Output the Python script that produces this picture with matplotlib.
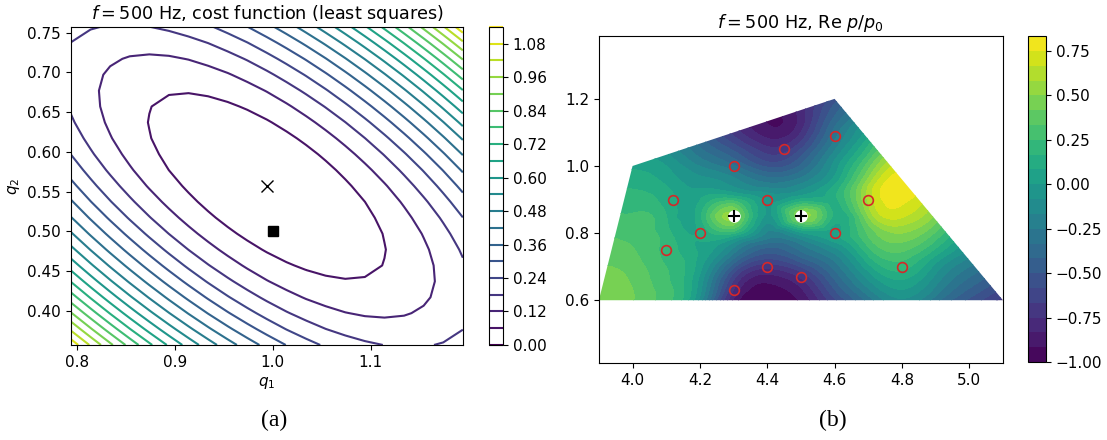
import numpy as np
import matplotlib
matplotlib.use("Agg")
import matplotlib.pyplot as plt
import matplotlib.tri as mtri
from matplotlib.patches import Polygon

plt.rcParams["font.size"] = 11

# ---- (a) least squares cost around the estimate ----
q_est = [0.994, 0.557]          # x marker
q_true = [1.0, 0.50]            # square marker
hess = [[7.94, 5.76], [5.76, 8.53]]
cost_min = 0.0
q_halfwidth = 0.2
n_grid = 21
cost_levels = np.arange(20) * 0.06
cost_ticks = np.arange(10) * 0.12

# ---- (b) Re p/p0 sampled on a 0.1 x 0.05 grid ----
grid_x = [3.9, 4.0, 4.1, 4.2, 4.3, 4.4, 4.5, 4.6, 4.7, 4.8, 4.9, 5.0, 5.1]
grid_y = [0.6, 0.65, 0.7, 0.75, 0.8, 0.85, 0.9, 0.95, 1.0, 1.05, 1.1, 1.15, 1.2]
# one list per column (x), values from y = 0.6 up to y = 1.2
re_p = [
    [0.45, 0.44, 0.42, 0.38, 0.34, 0.29, 0.24, 0.18, 0.12, 0.06, 0.00, -0.05, -0.10],
    [0.42, 0.41, 0.38, 0.34, 0.30, 0.26, 0.20, 0.14, 0.07, 0.00, -0.06, -0.12, -0.18],
    [0.28, 0.27, 0.25, 0.22, 0.20, 0.17, 0.13, 0.07, 0.00, -0.10, -0.20, -0.28, -0.35],
    [-0.12, -0.04, 0.03, 0.07, 0.10, 0.14, 0.08, -0.04, -0.17, -0.32, -0.45, -0.55, -0.62],
    [-0.85, -0.70, -0.48, -0.20, 0.18, 0.50, 0.20, -0.12, -0.32, -0.52, -0.70, -0.78, -0.82],
    [-1.00, -0.92, -0.72, -0.45, -0.18, -0.02, -0.03, -0.25, -0.52, -0.72, -0.88, -0.92, -0.92],
    [-0.90, -0.80, -0.58, -0.32, -0.02, 0.50, 0.10, -0.18, -0.40, -0.58, -0.75, -0.80, -0.78],
    [-0.60, -0.45, -0.30, -0.12, 0.06, 0.14, 0.14, 0.06, -0.05, -0.18, -0.30, -0.42, -0.55],
    [-0.30, -0.12, 0.05, 0.22, 0.35, 0.50, 0.60, 0.55, 0.38, 0.20, 0.05, -0.10, -0.25],
    [-0.10, 0.05, 0.20, 0.35, 0.50, 0.68, 0.78, 0.81, 0.72, 0.55, 0.40, 0.25, 0.10],
    [-0.30, -0.15, -0.03, 0.15, 0.32, 0.48, 0.58, 0.62, 0.55, 0.45, 0.35, 0.25, 0.15],
    [-0.52, -0.38, -0.25, -0.10, 0.02, 0.15, 0.25, 0.30, 0.28, 0.22, 0.18, 0.12, 0.08],
    [-0.70, -0.55, -0.40, -0.28, -0.18, -0.08, 0.00, 0.05, 0.05, 0.02, 0.00, -0.02, -0.04],
]
area_x = [3.9, 4.0, 4.6, 5.1]     # measured area outline
area_y = [0.6, 1.0, 1.2, 0.6]
mic_x = [4.6, 4.45, 4.3, 4.12, 4.4, 4.7, 4.2, 4.6, 4.1, 4.4, 4.8, 4.5, 4.3]
mic_y = [1.09, 1.05, 1.0, 0.9, 0.9, 0.9, 0.8, 0.8, 0.75, 0.7, 0.7, 0.67, 0.63]
src_x = [4.3, 4.5]
src_y = [0.85, 0.85]
field_levels = np.linspace(-1.0, 0.834, 23)
field_ticks = [-1.0, -0.75, -0.5, -0.25, 0.0, 0.25, 0.5, 0.75]

fig = plt.figure(figsize=(11.07, 4.4), dpi=100)
ax1 = fig.add_axes([0.0641, 0.216, 0.354, 0.7226])
cax1 = fig.add_axes([0.4417, 0.216, 0.0127, 0.7226])
ax2 = fig.add_axes([0.541, 0.175, 0.365, 0.743])
cax2 = fig.add_axes([0.9286, 0.177, 0.0164, 0.741])

# left panel
q1 = np.linspace(q_est[0] - q_halfwidth, q_est[0] + q_halfwidth, n_grid)
q2 = np.linspace(q_est[1] - q_halfwidth, q_est[1] + q_halfwidth, n_grid)
Q1, Q2 = np.meshgrid(q1, q2)
d1, d2 = Q1 - q_est[0], Q2 - q_est[1]
H = np.array(hess)
J = cost_min + H[0, 0] * d1**2 + 2 * H[0, 1] * d1 * d2 + H[1, 1] * d2**2
cs = ax1.contour(Q1, Q2, J, levels=cost_levels, cmap="viridis", linewidths=1.5)
ax1.plot(q_est[0], q_est[1], "kx", ms=8)
ax1.plot(q_true[0], q_true[1], "ks", ms=7)
ax1.set_xticks([0.8, 0.9, 1.0, 1.1])
ax1.set_yticks(np.arange(0.40, 0.751, 0.05))
ax1.set_xlabel(r"$q_1$")
ax1.set_ylabel(r"$q_2$")
ax1.set_title(r"$f = 500$ Hz, cost function (least squares)", fontsize=12.7)
fig.colorbar(cs, cax=cax1, ticks=cost_ticks)

# right panel
GX, GY = np.meshgrid(grid_x, grid_y, indexing="ij")
tri = mtri.Triangulation(GX.ravel(), GY.ravel())
refiner = mtri.UniformTriRefiner(tri)
tri_f, z_f = refiner.refine_field(np.array(re_p).ravel(), subdiv=4)
z_f = np.clip(z_f, -1.0, 0.83)
cf = ax2.tricontourf(tri_f, z_f, levels=field_levels, cmap="viridis")
outline = Polygon(list(zip(area_x, area_y)), closed=True, transform=ax2.transData)
cf.set_clip_path(outline)
ax2.plot(mic_x, mic_y, "o", mfc="none", mec="tab:red", ms=7, mew=1.2)
ax2.plot(src_x, src_y, "o", mfc="white", mec="none", ms=9)
ax2.plot(src_x, src_y, "k+", ms=8, mew=1.5)
ax2.set_xlim(3.9, 5.1)
ax2.set_ylim(0.413, 1.387)
ax2.set_xticks([4.0, 4.2, 4.4, 4.6, 4.8, 5.0])
ax2.set_yticks([0.6, 0.8, 1.0, 1.2])
ax2.set_title(r"$f = 500$ Hz, Re $p/p_0$", fontsize=12.7)
fig.colorbar(cf, cax=cax2, ticks=field_ticks)

fig.text(0.248, 0.045, "(a)", fontsize=17, family="Liberation Serif", ha="center", va="center")
fig.text(0.752, 0.045, "(b)", fontsize=17, family="Liberation Serif", ha="center", va="center")

fig.savefig("out.png", dpi=100)
